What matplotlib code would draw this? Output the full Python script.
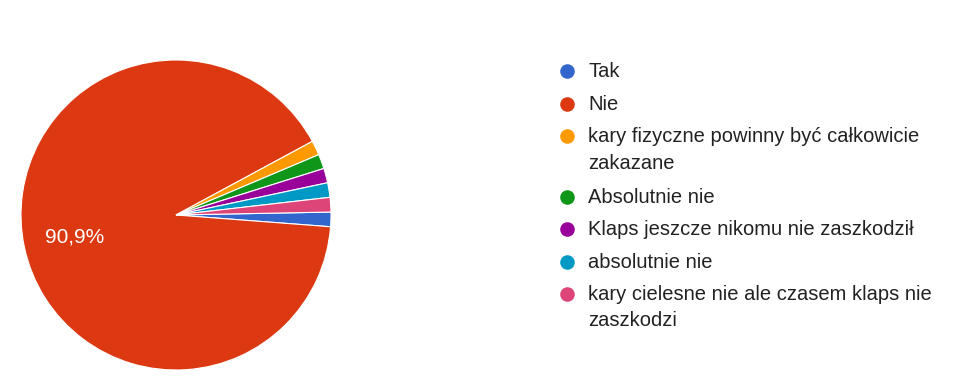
import matplotlib.pyplot as plt

# dane z wykresu
labels = ['Tak', 'Nie', 'kary fizyczne powinny być całkowicie\nzakazane', 'Absolutnie nie',
          'Klaps jeszcze nikomu nie zaszkodził', 'absolutnie nie',
          'kary cielesne nie ale czasem klaps nie\nzaszkodzi']
counts = [1, 60, 1, 1, 1, 1, 1]
colors = ['#3366CC', '#DC3912', '#FF9900', '#109618', '#990099', '#0099C6', '#DD4477']

W, H = 955, 392
fig = plt.figure(figsize=(W / 100, H / 100), dpi=100)
plt.rcParams['font.family'] = ['Liberation Sans', 'DejaVu Sans']

# wykres kołowy
cx, cy, r = 176, 215, 155
ax = fig.add_axes([(cx - r) / W, (H - cy - r) / H, 2 * r / W, 2 * r / H])


def pct(p):
    return f'{p:.1f}%'.replace('.', ',') if p > 5 else ''


wedges, texts, autotexts = ax.pie(counts, colors=colors, startangle=1.1, counterclock=False,
                                  autopct=pct, pctdistance=0.67,
                                  wedgeprops=dict(edgecolor='white', linewidth=0.8))
for t in autotexts:
    t.set_color('white')
    t.set_fontsize(15)
ax.set_xlim(-1, 1)
ax.set_ylim(-1, 1)

# legenda (współrzędne w pikselach)
lg = fig.add_axes([0, 0, 1, 1])
lg.set_xlim(0, W)
lg.set_ylim(H, 0)
lg.axis('off')
y = 71
for lab, col in zip(labels, colors):
    lg.scatter([567], [y], s=110, color=col, linewidths=0)
    lg.text(588, y - 9, lab, fontsize=14.5, color='#222222',
            va='top', ha='left', linespacing=1.5)
    y += 32.5 + 28 * lab.count('\n')

fig.savefig('out.png', dpi=100)
